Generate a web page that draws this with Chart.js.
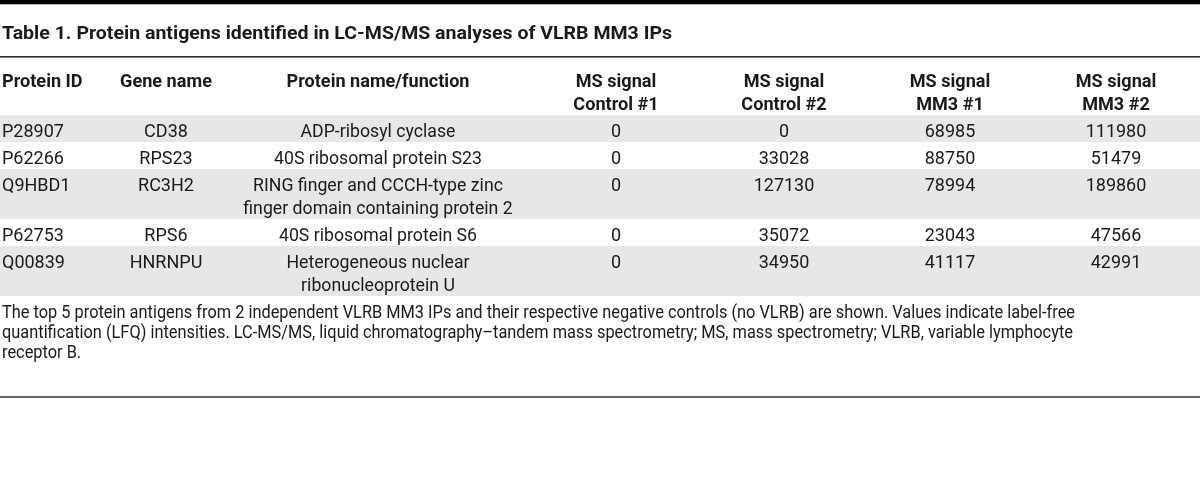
<!DOCTYPE html>
<html>
<head>
<meta charset="utf-8">
<script src="https://cdn.jsdelivr.net/npm/chart.js@4.4.1/dist/chart.umd.min.js"></script>
<style>
  html, body { margin: 0; padding: 0; background: #ffffff; }
  #wrap { width: 1200px; height: 477px; position: relative; }
  canvas { display: block; }
</style>
</head>
<body>
<div id="wrap"><canvas id="c" width="1200" height="477"></canvas></div>
<script>
// ---------------- data ----------------
const titleText = 'Table 1. Protein antigens identified in LC-MS/MS analyses of VLRB MM3 IPs';
const headers = [
  ['Protein ID'],
  ['Gene name'],
  ['Protein name/function'],
  ['MS signal', 'Control #1'],
  ['MS signal', 'Control #2'],
  ['MS signal', 'MM3 #1'],
  ['MS signal', 'MM3 #2']
];
const proteinIds = ['P28907', 'P62266', 'Q9HBD1', 'P62753', 'Q00839'];
const geneNames = ['CD38', 'RPS23', 'RC3H2', 'RPS6', 'HNRNPU'];
const proteinNames = [
  ['ADP-ribosyl cyclase'],
  ['40S ribosomal protein S23'],
  ['RING finger and CCCH-type zinc', 'finger domain containing protein 2'],
  ['40S ribosomal protein S6'],
  ['Heterogeneous nuclear', 'ribonucleoprotein U']
];
const msControl1 = [0, 0, 0, 0, 0];
const msControl2 = [0, 33028, 127130, 35072, 34950];
const msMM3_1 = [68985, 88750, 78994, 23043, 41117];
const msMM3_2 = [111980, 51479, 189860, 47566, 42991];
const captionLines = [
  'The top 5 protein antigens from 2 independent VLRB MM3 IPs and their respective negative controls (no VLRB) are shown. Values indicate label-free',
  'quantification (LFQ) intensities. LC-MS/MS, liquid chromatography\u2013tandem mass spectrometry; MS, mass spectrometry; VLRB, variable lymphocyte',
  'receptor B.'
];

// ---------------- layout (not data) ----------------
const COL_X = [2, 166, 378, 616, 784, 950, 1116];
const COL_ALIGN = ['left', 'center', 'center', 'center', 'center', 'center', 'center'];
const ROW_PAD = 0.174;     // extra row padding, in line units
const BASE_OFF = 0.935;    // baseline offset inside a row, in line units
const HEADER_Y = -1.22;    // header first baseline, in line units
const FONT_FAMILY = 'Roboto, "Noto Sans", sans-serif';
const TEXT_COLOR = '#1a1a1a';
const BAND_COLOR = '#e6e7e8';

const columns = [
  proteinIds.map(v => [v]),
  geneNames.map(v => [v]),
  proteinNames,
  msControl1.map(v => [String(v)]),
  msControl2.map(v => [String(v)]),
  msMM3_1.map(v => [String(v)]),
  msMM3_2.map(v => [String(v)])
];
const rowLines = proteinNames.map((p, i) => Math.max(...columns.map(c => c[i].length)));
const rowStart = [];
let acc = 0;
rowLines.forEach(n => { rowStart.push(acc); acc += n + ROW_PAD; });
const TOTAL = acc;

const datasets = columns.map((col, ci) => ({
  label: headers[ci].join(' '),
  data: col.map((cell, ri) => ({ x: COL_X[ci], y: rowStart[ri] + BASE_OFF })),
  pointRadius: 0,
  pointHoverRadius: 0,
  showLine: false
}));

function scaledText(ctx, str, x, y, align, sx) {
  ctx.save();
  ctx.translate(x, y);
  ctx.scale(sx, 1);
  ctx.textAlign = align;
  ctx.textBaseline = 'alphabetic';
  ctx.fillText(str, 0, 0);
  ctx.restore();
}
function fitScale(ctx, font, str, target) {
  ctx.save();
  ctx.font = font;
  const w = ctx.measureText(str).width;
  ctx.restore();
  return target / w;
}

const FONT_TITLE = 'bold 18px ' + FONT_FAMILY;
const FONT_HEAD = 'bold 18px ' + FONT_FAMILY;
const FONT_BODY = '18px ' + FONT_FAMILY;
const FONT_CAP = '18px ' + FONT_FAMILY;

const tablePlugin = {
  id: 'tablePlugin',
  beforeDatasetsDraw(chart) {
    const ctx = chart.ctx;
    const ys = chart.scales.y;
    const xs = chart.scales.x;
    const left = chart.chartArea.left, right = chart.chartArea.right;
    ctx.save();
    ctx.fillStyle = BAND_COLOR;
    rowStart.forEach((s, i) => {
      if (i % 2 === 0) {
        const y0 = ys.getPixelForValue(s);
        const y1 = ys.getPixelForValue(s + rowLines[i] + ROW_PAD);
        ctx.fillRect(left, y0, right - left, y1 - y0);
      }
    });
    ctx.fillStyle = '#000000';
    ctx.fillRect(0, 0, 1200, 4.3);
    ctx.fillStyle = '#2a2a2a';
    ctx.fillRect(0, 56, 1200, 1.6);
    ctx.fillStyle = '#666666';
    ctx.fillRect(0, 396, 1200, 2);

    ctx.fillStyle = TEXT_COLOR;
    const sTitle = fitScale(ctx, FONT_TITLE, titleText, 670);
    ctx.font = FONT_TITLE;
    scaledText(ctx, titleText, 2, 39, 'left', sTitle);
    const sHead = fitScale(ctx, FONT_HEAD, 'Protein name/function', 183);
    ctx.font = FONT_HEAD;
    headers.forEach((h, ci) => {
      h.forEach((line, k) => {
        scaledText(ctx, line, xs.getPixelForValue(COL_X[ci]), ys.getPixelForValue(HEADER_Y + k), COL_ALIGN[ci], sHead);
      });
    });
    const sCap = fitScale(ctx, FONT_CAP, captionLines[0], 1073);
    ctx.font = FONT_CAP;
    const capBase = [318, 338, 358];
    captionLines.forEach((line, k) => scaledText(ctx, line, 2, capBase[k], 'left', sCap));
    ctx.restore();
  },
  afterDatasetsDraw(chart) {
    const ctx = chart.ctx;
    const ys = chart.scales.y;
    ctx.save();
    ctx.fillStyle = TEXT_COLOR;
    const sName = fitScale(ctx, FONT_BODY, 'Heterogeneous nuclear', 183);
    ctx.font = FONT_BODY;
    chart.data.datasets.forEach((ds, ci) => {
      const meta = chart.getDatasetMeta(ci);
      const sx = ci === 2 ? sName : 1;
      meta.data.forEach((pt, ri) => {
        const lines = columns[ci][ri];
        lines.forEach((line, k) => {
          const y = ys.getPixelForValue(ds.data[ri].y + k);
          scaledText(ctx, line, pt.x, y, COL_ALIGN[ci], sx);
        });
      });
    });
    ctx.restore();
  }
};

function build() {
  new Chart(document.getElementById('c'), {
    type: 'scatter',
    data: { datasets },
    options: {
      responsive: false,
      animation: false,
      events: [],
      layout: { padding: { top: 115, bottom: 181, left: 0, right: 0 } },
      scales: {
        x: { type: 'linear', min: 0, max: 1200, display: false },
        y: { type: 'linear', min: 0, max: TOTAL, reverse: true, display: false }
      },
      plugins: { legend: { display: false }, tooltip: { enabled: false }, title: { display: false } }
    },
    plugins: [tablePlugin]
  });
}
if (document.fonts && document.fonts.load) {
  Promise.all([document.fonts.load('18px Roboto'), document.fonts.load('bold 18px Roboto')]).then(build, build);
} else { build(); }
</script>
</body>
</html>
